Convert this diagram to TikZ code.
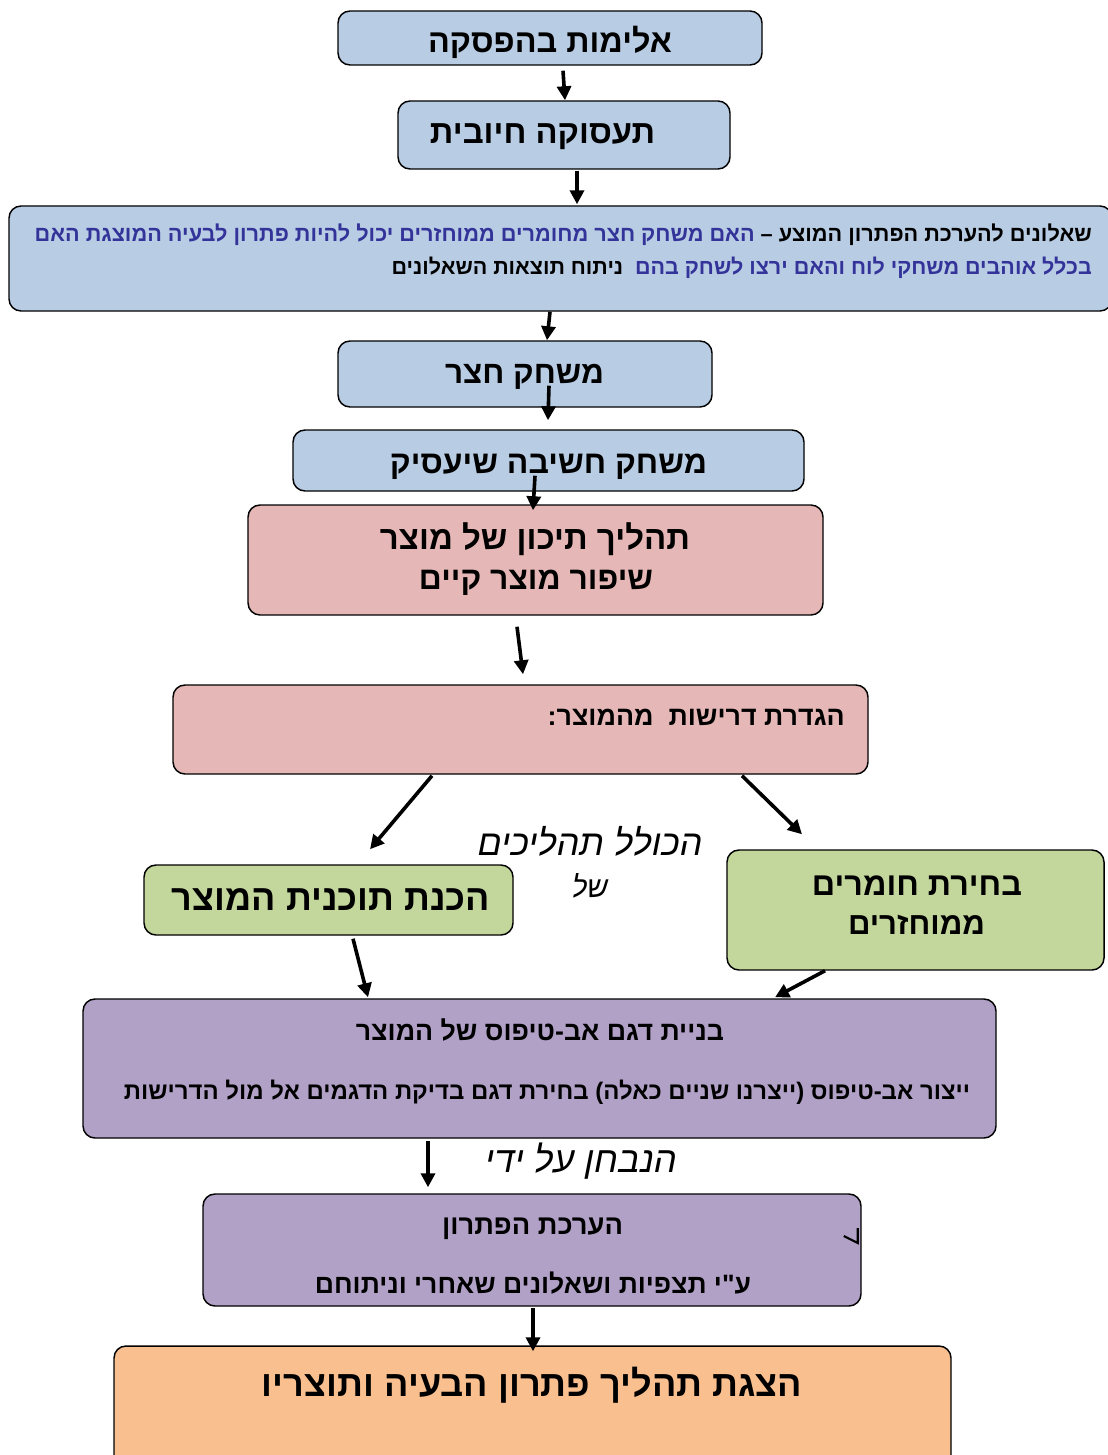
\documentclass[tikz,border=0pt]{standalone}
\usepackage{fontspec}
\usepackage{graphicx}
\usetikzlibrary{arrows.meta,calc}
\TeXXeTstate=1
\newfontfamily\heb[Script=Hebrew]{Liberation Sans}
\newdimen\pxu \pxu=0.75pt
\newcommand\fitw[2]{\resizebox{#1\pxu}{!}{\heb\bfseries #2}}
\newcommand\hand[2]{\resizebox{#1\pxu}{!}{\heb\itshape #2}}
\definecolor{bblue}{HTML}{B8CCE4}
\definecolor{bpink}{HTML}{E5B8B7}
\definecolor{bgreen}{HTML}{C3D69B}
\definecolor{bpurple}{HTML}{B2A1C7}
\definecolor{borange}{HTML}{FABF8F}
\definecolor{qblue}{HTML}{333399}
\tikzset{
  box/.style={draw=black, line width=1.1pt, rounded corners=9pt, inner sep=0pt},
  txt/.style={inner sep=0pt, anchor=base},
  txtr/.style={inner sep=0pt, anchor=base east},
  arr/.style={line width=2.7pt, -{Triangle[length=10.5pt,width=10.5pt]}},
}
\newcommand\bx[6]{\node[box,fill=#6,minimum width=#4*0.75pt,minimum height=#5*0.75pt] (#1) at (#2,#3) {};}
\begin{document}
\begin{tikzpicture}[x=0.75pt,y=-0.75pt]
\useasboundingbox (0,0) rectangle (1107,1455);
% boxes
\bx{b1}{550}{38}{424}{54}{bblue}
\bx{b2}{564}{135}{332}{68}{bblue}
\bx{b3}{560.5}{258.5}{1103}{105}{bblue}
\bx{b4}{525}{374}{374}{66}{bblue}
\bx{b5}{548.5}{460.5}{511}{61}{bblue}
\bx{b6}{535.5}{560}{575}{110}{bpink}
\bx{b7}{520.5}{729.5}{695}{89}{bpink}
\bx{b8}{328.5}{900}{369}{70}{bgreen}
\bx{b9}{915.5}{910}{377}{120}{bgreen}
\bx{b10}{539.5}{1068.5}{913}{139}{bpurple}
\bx{b11}{532}{1250}{658}{112}{bpurple}
\bx{b12}{532.5}{1410.5}{837}{129}{borange}
% texts
\node[txt] (t1) at (550,53) {\fitw{244}{\beginR אלימות בהפסקה\endR}};
\node[txt] (t2) at (542.5,144) {\fitw{225}{\beginR תעסוקה חיובית\endR}};
\node[txtr] (t3a) at (1092,241) {\fitw{1057}{\textcolor{qblue}{\beginR האם משחק חצר מחומרים ממוחזרים יכול להיות פתרון לבעיה המוצגת האם\endR}\ \beginR שאלונים להערכת הפתרון המוצע –\endR}};
\node[txtr] (t3b) at (1092,274) {\fitw{700}{\beginR ניתוח תוצאות השאלונים\endR\ \ \textcolor{qblue}{\beginR בכלל אוהבים משחקי לוח והאם ירצו לשחק בהם\endR}}};
\node[txt] (t4) at (524.5,383) {\fitw{159}{\beginR משחק חצר\endR}};
\node[txt] (t5) at (548.5,473) {\fitw{317}{\beginR משחק חשיבה שיעסיק\endR}};
\node[txt] (t6a) at (535,549) {\fitw{310}{\beginR תהליך תיכון של מוצר\endR}};
\node[txt] (t6b) at (536,589) {\fitw{234}{\beginR שיפור מוצר קיים\endR}};
\node[txtr] (t7) at (845,725) {\fitw{297}{\beginR הגדרת דרישות\ \ מהמוצר:\endR}};
\node[txt] (t8) at (331,910) {\fitw{318}{\beginR הכנת תוכנית המוצר\endR}};
\node[txt] (t9a) at (917,895) {\fitw{210}{\beginR בחירת חומרים\endR}};
\node[txt] (t9b) at (916.5,934) {\fitw{137}{\beginR ממוחזרים\endR}};
\node[txt] (t10a) at (540,1040) {\fitw{368}{\beginR בניית דגם אב-טיפוס של המוצר\endR}};
\node[txt] (t10b) at (547,1099) {\fitw{846}{\beginR ייצור אב-טיפוס (ייצרנו שניים כאלה) בחירת דגם בדיקת הדגמים אל מול הדרישות\endR}};
\node[txt] (t11a) at (532.5,1234) {\fitw{181}{\beginR הערכת הפתרון\endR}};
\node[txt] (t11b) at (533,1293) {\fitw{436}{\beginR ע"י תצפיות ושאלונים שאחרי וניתוחם\endR}};
\node[txt] (t12) at (532,1396) {\fitw{540}{\beginR הצגת תהליך פתרון הבעיה ותוצריו\endR}};
\node[txt] (h1) at (590,855) {\hand{225}{\beginR הכולל תהליכים\endR}};
\node[txt] (h2) at (590,897) {\resizebox{36\pxu}{24\pxu}{\heb\itshape\beginR של\endR}};
\node[txt] (h3) at (581,1172) {\hand{192}{\beginR הנבחן על ידי\endR}};
% arrows
\draw[arr] ($(b1.south)+(13,5)$) -- ($(b2.north)+(1,0)$);
\draw[arr] ($(b2.south)+(13,1)$) -- ($(b3.north)+(16.5,-1)$);
\draw[arr] ($(b3.south)+(-10.5,0)$) -- ($(b4.north)+(22,0)$);
\draw[arr] ($(b4.south)+(24,-22)$) -- ($(b5.north)+(-0.5,-9)$);
\draw[arr] ($(b5.south)+(-13.5,-16)$) -- ($(b6.north)+(-2.5,6)$);
\draw[arr] ($(b6.south)+(-18.5,11)$) -- ($(b7.north)+(2.5,-10)$);
\draw[arr] ($(b7.south)+(-88.5,1)$) -- ($(b8.north)+(41.5,-15)$);
\draw[arr] ($(b7.south)+(221.5,1)$) -- ($(b9.north)+(-113.5,-15)$);
\draw[arr] ($(b8.south)+(24.5,3)$) -- ($(b10.north)+(-171.5,-1)$);
\draw[arr] ($(b9.south)+(-90.5,0)$) -- ($(b10.north)+(235.5,-1)$);
\draw[arr] ($(b10.south)+(-111.5,2)$) -- ($(b11.north)+(-104,-6)$);
\draw[arr] ($(b11.south)+(1,1)$) -- ($(b12.north)+(0.5,6)$);
% small mark
\draw[line width=1.6pt] ($(b11.east)+(-18,-14)$) -- ($(b11.east)+(-4,-7)$) -- ($(b11.east)+(-4,-22)$);
\end{tikzpicture}
\end{document}
